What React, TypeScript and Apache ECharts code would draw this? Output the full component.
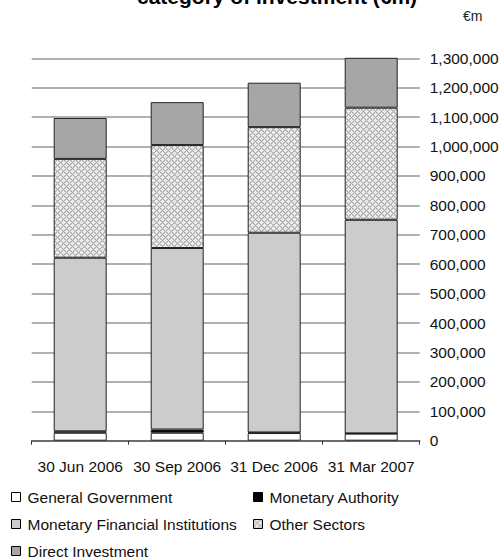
import React, { useEffect, useRef } from "react";
import * as echarts from "echarts";

const categories = ["30 Jun 2006", "30 Sep 2006", "31 Dec 2006", "31 Mar 2007"];
const generalGovernment = [27000, 27000, 26000, 24000];
const monetaryAuthority = [5000, 11000, 2000, 1000];
const monetaryFinancialInstitutions = [590000, 617000, 679000, 726000];
const otherSectors = [336000, 350000, 359000, 381000];
const directInvestment = [139000, 146000, 151000, 170000];
const seriesNames = [
  "General Government",
  "Monetary Authority",
  "Monetary Financial Institutions",
  "Other Sectors",
  "Direct Investment",
];
const titleText = "category of investment (€m)";
const unitText = "€m";

const FONT = "'Liberation Sans', Arial, Helvetica, sans-serif";

function makePattern(): HTMLCanvasElement {
  const c = document.createElement("canvas");
  c.width = 6;
  c.height = 6;
  const ctx = c.getContext("2d")!;
  ctx.fillStyle = "#ffffff";
  ctx.fillRect(0, 0, 6, 6);
  for (let x = 0; x < 6; x++) {
    for (let y = 0; y < 6; y++) {
      if ((x + y) % 6 === 0 || (x - y + 6) % 6 === 0) {
        ctx.fillStyle = "#a9a9a9";
        ctx.fillRect(x, y, 1, 1);
      } else if ((x + y) % 2 === 1) {
        ctx.fillStyle = "#d6d6d6";
        ctx.fillRect(x, y, 1, 1);
      }
    }
  }
  return c;
}

export default function App() {
  const ref = useRef<HTMLDivElement>(null);
  useEffect(() => {
    if (!ref.current) return;
    const chart = echarts.init(ref.current, undefined, { renderer: "svg" });
    const pat = makePattern();
    const patternColor: any = { image: pat, repeat: "repeat", imageWidth: 6, imageHeight: 6 };
    const colors: any[] = ["#ffffff", "#000000", "#cccccc", patternColor, "#a6a6a6"];
    const legendColors = ["#ffffff", "#000000", "#cccccc", patternColor, "#a6a6a6"];
    const values = [
      generalGovernment,
      monetaryAuthority,
      monetaryFinancialInstitutions,
      otherSectors,
      directInvestment,
    ];
    const legendPos = [
      { left: 11, top: 488 },
      { left: 253, top: 488 },
      { left: 11, top: 515 },
      { left: 253, top: 515 },
      { left: 11, top: 542 },
    ];
    const option: any = {
      animation: false,
      grid: { left: 31.7, right: 83.3, top: 58.3, bottom: 117.3, containLabel: false },
      graphic: [
        {
          type: "text",
          left: 280 - 143,
          top: -14,
          style: {
            text: titleText,
            font: `bold 21px ${FONT}`,
            fill: "#000",
          },
        },
        {
          type: "text",
          left: 463,
          top: 9,
          style: { text: unitText, font: `14px ${FONT}`, fill: "#222" },
        },
      ],
      legend: seriesNames.map((n, i) => ({
        data: [{ name: n, itemStyle: { color: legendColors[i] } }],
        left: legendPos[i].left,
        top: legendPos[i].top,
        padding: 0,
        icon: "rect",
        itemWidth: 9,
        itemHeight: 9,
        itemStyle: { borderColor: "#000", borderWidth: 1 },
        textStyle: {
          fontFamily: FONT,
          fontSize: 15.5,
          color: "#111",
          lineHeight: 18,
          padding: [0, 0, 0, 2],
        },
        selectedMode: false,
      })),
      xAxis: {
        type: "category",
        data: categories,
        axisLine: { lineStyle: { color: "#555", width: 1.5 } },
        axisTick: { show: true, length: 4, lineStyle: { color: "#333" } },
        axisLabel: { fontFamily: FONT, fontSize: 15.5, color: "#111", margin: 18, interval: 0 },
      },
      yAxis: {
        type: "value",
        position: "right",
        min: 0,
        max: 1300000,
        interval: 100000,
        axisLine: { show: false },
        axisTick: { show: false },
        splitLine: { lineStyle: { color: "#b0b0b0", width: 2 } },
        axisLabel: {
          fontFamily: FONT,
          fontSize: 15.5,
          color: "#111",
          margin: 10,
          formatter: (v: number) => v.toLocaleString("en-US"),
        },
      },
      series: seriesNames.map((n, i) => ({
        name: n,
        type: "bar",
        stack: "total",
        barWidth: 53,
        data: values[i],
        itemStyle: { color: colors[i], borderColor: "#222", borderWidth: 1 },
      })),
    };
    chart.setOption(option);
    return () => chart.dispose();
  }, []);
  return <div ref={ref} style={{ width: 503, height: 558, position: "absolute", left: 0, top: 0 }} />;
}
